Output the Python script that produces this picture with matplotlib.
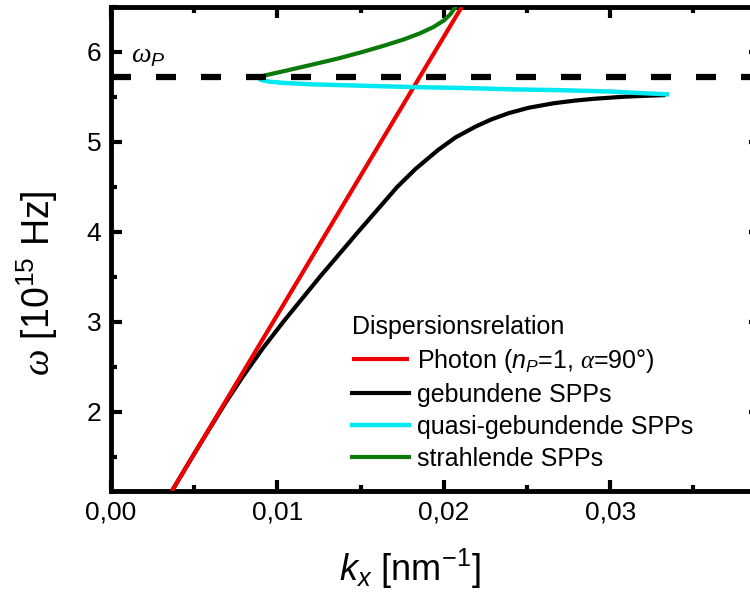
import numpy as np
import matplotlib
matplotlib.use("Agg")
import matplotlib.pyplot as plt
from matplotlib.ticker import MultipleLocator, FuncFormatter

plt.rcParams['font.family'] = ['Liberation Sans', 'DejaVu Sans']
plt.rcParams['mathtext.fontset'] = 'custom'
plt.rcParams['mathtext.rm'] = 'Liberation Sans'
plt.rcParams['mathtext.it'] = 'Liberation Sans:italic'
plt.rcParams['mathtext.sf'] = 'Liberation Serif:italic'

# values (k in nm^-1, omega in 1e15 Hz)
omega_p = 5.72

photon_k = [0.00366, 0.02107]
photon_w = [1.12, 6.50]

bound_k = [0.00366, 0.00489, 0.00588, 0.00688, 0.00795, 0.00910, 0.01035, 0.01255,
           0.01485, 0.01720, 0.01830, 0.01965, 0.02070, 0.02190, 0.02285, 0.02390,
           0.02510, 0.02660, 0.02790, 0.02905, 0.03060, 0.03170, 0.03320]
bound_w = [1.12, 1.50, 1.80, 2.10, 2.40, 2.70, 3.00, 3.50,
           4.00, 4.50, 4.70, 4.91, 5.05, 5.17, 5.25, 5.32,
           5.38, 5.43, 5.46, 5.48, 5.50, 5.51, 5.52]

quasi_k = [0.0334, 0.0316, 0.0301, 0.0271, 0.0241, 0.0211, 0.0181, 0.0151,
           0.0121, 0.0105, 0.0095, 0.0090, 0.0088]
quasi_w = [5.53, 5.545, 5.56, 5.575, 5.585, 5.60, 5.61, 5.625,
           5.64, 5.655, 5.67, 5.69, 5.72]

rad_k = [0.0088, 0.0095, 0.0107, 0.0121, 0.0137, 0.0151, 0.0164, 0.0176,
         0.0186, 0.0194, 0.0200, 0.0204, 0.0207]
rad_w = [5.72, 5.75, 5.80, 5.86, 5.93, 6.00, 6.07, 6.14,
         6.21, 6.28, 6.35, 6.42, 6.50]

labels = [r'Photon ($n_P$=1, $\mathsf{\alpha}$=90°)', 'gebundene SPPs',
          'quasi-gebundende SPPs', 'strahlende SPPs']

fig = plt.figure(figsize=(7.5, 6.04), dpi=100)
ax = fig.add_axes([111/750, 113/604, 649/750, 484/604])

l_ph, = ax.plot(photon_k, photon_w, color='#ee0000', lw=3, zorder=4, solid_capstyle='butt')
l_b, = ax.plot(bound_k, bound_w, color='black', lw=3, zorder=3)
l_q, = ax.plot(quasi_k, quasi_w, color='#00e8f0', lw=3.2, zorder=5)
l_r, = ax.plot(rad_k, rad_w, color='#0b7a0b', lw=3, zorder=3)
ax.axhline(omega_p, color='black', lw=4.5, dashes=(3.2, 4.0), zorder=6)

ax.text(0.0012, 5.88, r'$\mathsf{\omega}_P$', fontsize=20)

ax.set_xlim(0, 0.039)
ax.set_ylim(1.12, 6.5)
ax.xaxis.set_major_locator(MultipleLocator(0.01))
ax.xaxis.set_minor_locator(MultipleLocator(0.005))
ax.yaxis.set_major_locator(MultipleLocator(1))
ax.yaxis.set_minor_locator(MultipleLocator(0.5))
ax.xaxis.set_major_formatter(FuncFormatter(lambda v, p: f'{v:.2f}'.replace('.', ',')))
ax.yaxis.set_major_formatter(FuncFormatter(lambda v, p: f'{v:.0f}'))

ax.tick_params(which='both', direction='in', top=True, right=True, width=3)
ax.tick_params(which='major', length=8, labelsize=19, pad=7)
ax.tick_params(which='minor', length=4)
for s in ax.spines.values():
    s.set_linewidth(3.5)

ax.set_xlabel(r'$k_x$ [nm$^{-1}$]', fontsize=26)
ax.set_ylabel(r'$\mathsf{\omega}$ [10$^{15}$ Hz]', fontsize=27)
ax.xaxis.set_label_coords((410 - 111) / 649, -0.115)
ax.yaxis.set_label_coords(-0.079, (491 - 283) / 484)

leg = ax.legend([l_ph, l_b, l_q, l_r], labels, title='Dispersionsrelation',
                loc='upper left', bbox_to_anchor=(0.371, 0.364), frameon=False,
                fontsize=18, title_fontsize=18, handlelength=2.3, handletextpad=0.32,
                labelspacing=0.32, borderpad=0, borderaxespad=0)
leg._legend_box.align = 'left'

fig.savefig('out.png', dpi=100)
